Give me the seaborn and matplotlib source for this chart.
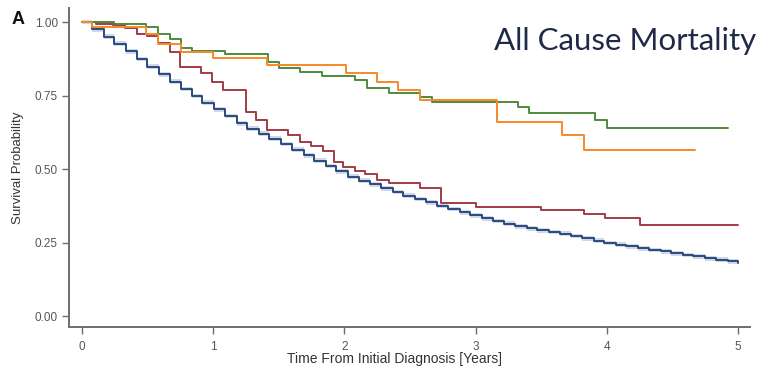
import numpy as np
import pandas as pd
import matplotlib
matplotlib.use("Agg")
import matplotlib.pyplot as plt
import seaborn as sns

# ---- data ----
blue_t = [0, 0.08, 0.17, 0.25, 0.34, 0.42, 0.50, 0.59, 0.67, 0.76, 0.84, 0.92, 1.01, 1.09,
          1.18, 1.26, 1.35, 1.43, 1.52, 1.60, 1.69, 1.77, 1.86, 1.94, 2.03, 2.11, 2.20, 2.28,
          2.37, 2.45, 2.54, 2.62, 2.71, 2.79, 2.88, 2.96, 3.05, 3.13, 3.22, 3.30, 3.39, 3.47,
          3.56, 3.64, 3.73, 3.81, 3.90, 3.98, 4.07, 4.15, 4.24, 4.32, 4.41, 4.49, 4.58, 4.66,
          4.75, 4.83, 4.92, 5.00]
blue_s = [1.0, 0.975, 0.950, 0.926, 0.900, 0.874, 0.848, 0.822, 0.797, 0.772, 0.748, 0.726,
          0.703, 0.680, 0.655, 0.637, 0.620, 0.603, 0.585, 0.566, 0.547, 0.529, 0.510, 0.492,
          0.474, 0.461, 0.448, 0.435, 0.422, 0.410, 0.398, 0.387, 0.374, 0.364, 0.353, 0.343,
          0.333, 0.323, 0.314, 0.305, 0.298, 0.292, 0.286, 0.280, 0.272, 0.264, 0.256, 0.249,
          0.243, 0.237, 0.231, 0.225, 0.220, 0.214, 0.208, 0.203, 0.197, 0.192, 0.186, 0.182]

red_t = [0, 0.11, 0.24, 0.33, 0.42, 0.50, 0.58, 0.67, 0.75, 0.91, 0.99, 1.08, 1.25, 1.33,
         1.41, 1.57, 1.66, 1.75, 1.84, 1.92, 1.99, 2.08, 2.16, 2.25, 2.34, 2.58, 2.74, 3.00,
         3.50, 3.83, 3.99, 4.25, 5.00]
red_s = [1.0, 0.993, 0.989, 0.978, 0.958, 0.951, 0.927, 0.898, 0.847, 0.827, 0.796, 0.768,
         0.694, 0.666, 0.634, 0.615, 0.592, 0.578, 0.562, 0.524, 0.507, 0.494, 0.483, 0.462,
         0.451, 0.437, 0.386, 0.371, 0.360, 0.347, 0.332, 0.311, 0.311]

green_t = [0, 0.25, 0.49, 0.58, 0.67, 0.76, 0.84, 1.09, 1.42, 1.50, 1.66, 1.83, 2.08, 2.17,
           2.34, 2.58, 2.67, 3.32, 3.41, 3.91, 4.00, 4.92]
green_s = [1.0, 0.992, 0.983, 0.960, 0.942, 0.910, 0.901, 0.890, 0.864, 0.842, 0.830, 0.815,
           0.802, 0.774, 0.759, 0.745, 0.728, 0.711, 0.691, 0.666, 0.640, 0.640]

orange_t = [0, 0.08, 0.49, 0.58, 0.76, 1.00, 1.41, 2.01, 2.25, 2.41, 2.58, 3.16, 3.66, 3.83, 4.67]
orange_s = [1.0, 0.983, 0.958, 0.925, 0.898, 0.876, 0.853, 0.827, 0.796, 0.768, 0.736, 0.660,
            0.617, 0.564, 0.564]

groups = ["blue", "red", "green", "orange"]
colors = {"blue": "#2b4a7e", "red": "#a23b45", "green": "#4e8a3c", "orange": "#f58a2a"}

x_ticks = [0, 1, 2, 3, 4, 5]
y_ticks = [0.0, 0.25, 0.5, 0.75, 1.0]
y_tick_labels = ["0.00", "0.25", "0.50", "0.75", "1.00"]

frames = []
for g, t, s in [("blue", blue_t, blue_s), ("red", red_t, red_s),
                ("green", green_t, green_s), ("orange", orange_t, orange_s)]:
    frames.append(pd.DataFrame({"time": t, "surv": s, "group": g}))
df = pd.concat(frames, ignore_index=True)

sns.set_theme(style="white")
plt.rcParams["font.family"] = ["Liberation Sans", "DejaVu Sans"]

fig = plt.figure(figsize=(7.59, 3.72), dpi=100)
ax = fig.add_axes([0.091, 0.121, 0.897, 0.857])

# faint band around the blue curve
bd = df[df.group == "blue"]
ax.fill_between(bd["time"], bd["surv"] - 0.008, bd["surv"] + 0.008, step="post",
                color="#9fb3d1", alpha=0.5, lw=0)

sns.lineplot(data=df, x="time", y="surv", hue="group", palette=colors,
             hue_order=groups, drawstyle="steps-post", estimator=None,
             legend=False, linewidth=1.4, ax=ax)

ax.set_xlim(-0.096, 5.09)
ax.set_ylim(-0.037, 1.047)
ax.set_xticks(x_ticks)
ax.set_xticklabels([str(v) for v in x_ticks])
ax.set_yticks(y_ticks)
ax.set_yticklabels(y_tick_labels)

for side in ["top", "right"]:
    ax.spines[side].set_visible(False)
for side in ["left", "bottom"]:
    ax.spines[side].set_color("#6e6e6e")
    ax.spines[side].set_linewidth(1.4)

ax.tick_params(axis="both", which="both", direction="out", length=5, width=1,
               color="#6e6e6e", labelsize=8.5, labelcolor="#555555", pad=3,
               bottom=True, left=True)
ax.tick_params(axis="x", pad=5)

ax.set_xlabel("Time From Initial Diagnosis [Years]", fontsize=10, color="#333333")
ax.xaxis.set_label_coords((395 - 69) / 681, -0.08)
ax.set_ylabel("Survival Probability", fontsize=9.5, color="#333333")
ax.yaxis.set_label_coords(-0.066, 0.5)

fig.text(0.997, 0.866, "All Cause Mortality", fontsize=22.5, color="#1f2a48",
         family=["Lato", "DejaVu Sans"], ha="right", va="baseline")
fig.text(0.015, 0.935, "A", fontsize=13, fontweight="bold", color="#111111")

fig.savefig("out.png", dpi=100)
